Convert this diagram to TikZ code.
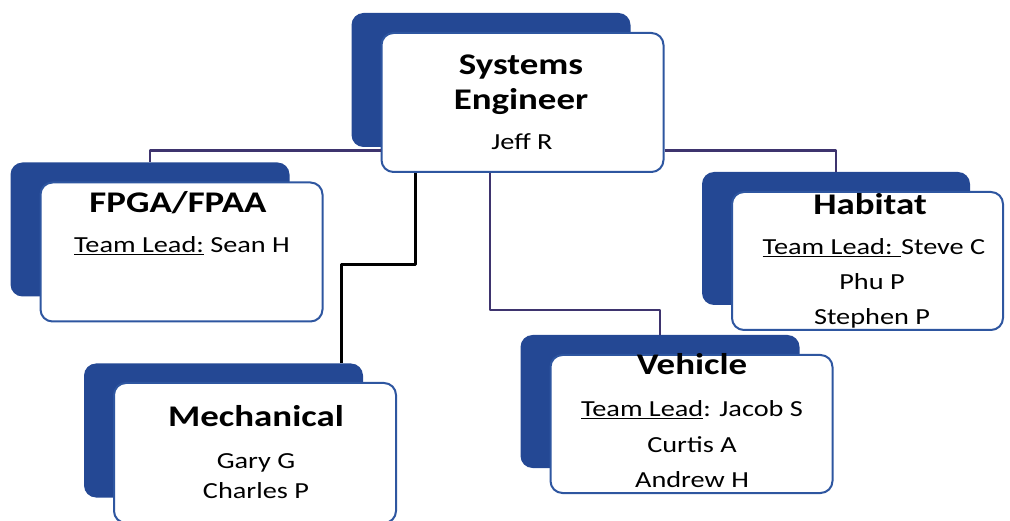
\documentclass[tikz,border=0pt]{standalone}
\usepackage{fontspec}
\setmainfont{Carlito}[FakeStretch=1.23]
\usetikzlibrary{calc}
\definecolor{backblue}{RGB}{36,72,148}
\definecolor{edgeblue}{RGB}{46,86,160}
\definecolor{linkpurple}{RGB}{62,52,110}
\begin{document}
\begin{tikzpicture}[x=1pt,y=1pt,line join=round,
	shade/.style={fill=backblue,rounded corners=12pt,minimum width=279,minimum height=134,inner sep=0},
	card/.style={draw=edgeblue,line width=2pt,fill=white,rounded corners=12pt,minimum width=282,minimum height=139,inner sep=0},
	ttl/.style={anchor=base,inner sep=0,font=\fontsize{30}{30}\selectfont\bfseries},
	who/.style={anchor=base,inner sep=0,font=\fontsize{23}{23}\selectfont},
	link/.style={draw=linkpurple,line width=2.2pt},
	mainlink/.style={draw=black,line width=3pt}]
	\useasboundingbox (0,0) rectangle (1010,520);
	% back plates
	\node[shade] (seB) at (491,440) {};
	\node[shade] (fpgaB) at (150,290.5) {};
	\node[shade,minimum width=268,minimum height=133] (habB) at (836,281.5) {};
	\node[shade] (mechB) at (223.5,89.5) {};
	\node[shade,minimum height=133] (vehB) at (660,118.5) {};
	% cards
	\node[card] (se) at ($(seB)+(31.5,-22.5)$) {};
	\node[card] (fpga) at ($(fpgaB)+(31.5,-22.5)$) {};
	\node[card,minimum width=271,minimum height=138] (hab) at ($(habB)+(31.5,-22.5)$) {};
	\node[card,minimum height=140] (mech) at ($(mechB)+(31.5,-22.5)$) {};
	\node[card,minimum height=138] (veh) at ($(vehB)+(31.5,-22.5)$) {};
	% connectors
	\coordinate (mbend) at (415,255);
	\coordinate (vbend) at (490,210);
	\draw[link] ([yshift=-48]se.west) -| (fpgaB.north);
	\draw[link] ([yshift=-48]se.east) -| (habB.north);
	\draw[mainlink] (se.south -| mbend) -- (mbend) -| ([xshift=-22]mechB.north east);
	\draw[link] (se.south -| vbend) -- (vbend) -| (vehB.north);
	% texts
	\node[ttl] (seT1) at (521,445) {Systems};
	\node[ttl] (seT2) at (521,410) {Engineer};
	\node[who] (seN) at (522,370) {Jeff R};
	\node[ttl] (fpgaT) at (178,307) {FPGA/FPAA};
	\node[who] (fpgaN) at (182,267) {\underline{Team Lead:} Sean H};
	\node[ttl] (habT) at (870,305) {Habitat};
	\node[who] (habN1) at (874,265) {\underline{Team Lead: }Steve C};
	\node[who] (habN2) at (872,230) {Phu P};
	\node[who] (habN3) at (872,195) {Stephen P};
	\node[ttl] (mechT) at (256,93) {Mechanical};
	\node[who] (mechN1) at (256,52) {Gary G};
	\node[who] (mechN2) at (256,22) {Charles P};
	\node[ttl] (vehT) at (692,145) {Vehicle};
	\node[who] (vehN1) at (692,103) {\underline{Team Lead}: Jacob S};
	\node[who] (vehN2) at (692,68) {Curtis A};
	\node[who] (vehN3) at (692,33) {Andrew H};
\end{tikzpicture}
\end{document}
